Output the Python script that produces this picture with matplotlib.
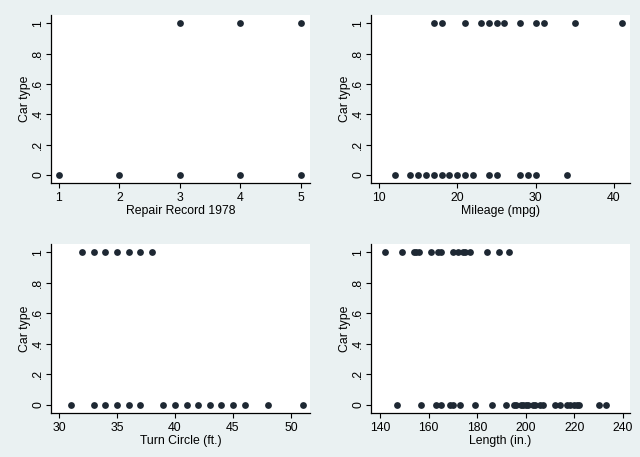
import matplotlib
matplotlib.use("Agg")
import matplotlib.pyplot as plt

# Car type: 1 = foreign, 0 = domestic (distinct values visible in each panel)
rep78_foreign = [3, 4, 5]
rep78_domestic = [1, 2, 3, 4, 5]

mpg_foreign = [17, 18, 21, 23, 24, 25, 26, 28, 30, 31, 35, 41]
mpg_domestic = [12, 14, 15, 16, 17, 18, 19, 20, 21, 22, 24, 25, 28, 29, 30, 34]

turn_foreign = [32, 33, 34, 35, 36, 37, 38]
turn_domestic = [31, 33, 34, 35, 36, 37, 39, 40, 41, 42, 43, 44, 45, 46, 48, 51]

length_foreign = [142, 149, 154, 155, 156, 161, 164, 165, 170, 172, 174, 175, 177, 184, 189, 193]
length_domestic = [147, 157, 163, 165, 169, 170, 173, 179, 186, 192, 195, 196, 198, 199, 200,
                   201, 203, 204, 206, 207, 212, 214, 217, 218, 220, 221, 222, 230, 233]

y_ticks = [0, 0.2, 0.4, 0.6, 0.8, 1]
y_ticklabels = ["0", ".2", ".4", ".6", ".8", "1"]

panels = [
    dict(fx=rep78_foreign, dx=rep78_domestic, xlabel="Repair Record 1978",
         xticks=[1, 2, 3, 4, 5], xlim=(0.868, 5.149),
         rect=[51/640, 1-183/457, 259/640, 168/457]),
    dict(fx=mpg_foreign, dx=mpg_domestic, xlabel="Mileage (mpg)",
         xticks=[10, 20, 30, 40], xlim=(8.98, 42.04),
         rect=[371/640, 1-183/457, 259/640, 168/457]),
    dict(fx=turn_foreign, dx=turn_domestic, xlabel="Turn Circle (ft.)",
         xticks=[30, 35, 40, 45, 50], xlim=(29.31, 51.64),
         rect=[51/640, 1-413/457, 259/640, 169/457]),
    dict(fx=length_foreign, dx=length_domestic, xlabel="Length (in.)",
         xticks=[140, 160, 180, 200, 220, 240], xlim=(136.3, 242.9),
         rect=[371/640, 1-413/457, 259/640, 169/457]),
]

bg = "#eaf1f2"
mcol = "#1e2833"
fam = ["Liberation Sans", "DejaVu Sans"]

fig = plt.figure(figsize=(6.4, 4.57), dpi=100, facecolor=bg)

for p in panels:
    ax = fig.add_axes(p["rect"])
    ax.set_facecolor("white")
    ax.scatter(p["fx"], [1] * len(p["fx"]), s=24, color=mcol, zorder=3, linewidths=0)
    ax.scatter(p["dx"], [0] * len(p["dx"]), s=24, color=mcol, zorder=3, linewidths=0)
    ax.set_xlim(*p["xlim"])
    ax.set_ylim(-0.053, 1.055)
    ax.set_xticks(p["xticks"])
    ax.set_xticklabels([str(t) for t in p["xticks"]], fontsize=8.8, family=fam)
    ax.set_yticks(y_ticks)
    ax.set_yticklabels(y_ticklabels, fontsize=8.8, family=fam, rotation=90, va="center")
    ax.tick_params(axis="both", length=3.8, width=0.8, color="black")
    ax.tick_params(axis="x", pad=3)
    ax.tick_params(axis="y", pad=1.2)
    for s in ["top", "right"]:
        ax.spines[s].set_visible(False)
    for s in ["left", "bottom"]:
        ax.spines[s].set_linewidth(0.9)
    ax.set_xlabel(p["xlabel"], fontsize=8.8, family=fam, labelpad=0.5)
    ax.set_ylabel("Car type", fontsize=8.8, family=fam, labelpad=1)

fig.savefig("out.png", dpi=100, facecolor=bg)
